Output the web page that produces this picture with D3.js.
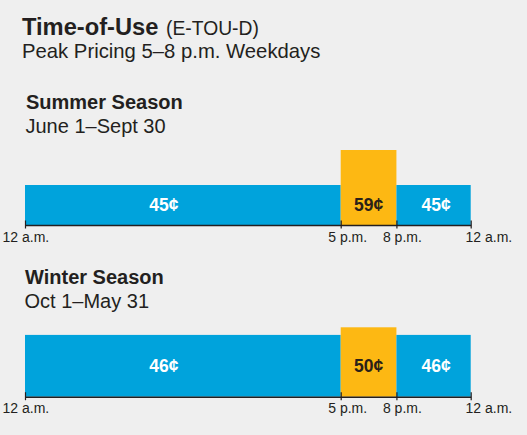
<!DOCTYPE html>
<html><head><meta charset="utf-8">
<script src="https://cdn.jsdelivr.net/npm/d3@7/dist/d3.min.js"></script>
<style>
html,body{margin:0;padding:0;background:#efefef;}
svg{display:block;font-family:"Liberation Sans",Arial,Helvetica,sans-serif;}
</style></head><body>
<script>
// ---- data ----
const seasons = ["Summer Season", "Winter Season"];
const seasonDates = ["June 1–Sept 30", "Oct 1–May 31"];
const segStart = [0, 17, 20];
const segEnd = [17, 20, 24];
const segType = ["off", "peak", "off"];
const summerCents = [45, 59, 45];
const winterCents = [46, 50, 46];
const tickHours = [0, 17, 20, 24];
const tickLabels = ["12 a.m.", "5 p.m.", "8 p.m.", "12 a.m."];
const titleMain = "Time-of-Use";
const titleCode = "(E-TOU-D)";
const subtitle = "Peak Pricing 5–8 p.m. Weekdays";

// ---- layout / style ----
const W = 527, H = 435;
const colors = {off: "#00a3dc", peak: "#fdb813"};
const labelColors = {off: "#ffffff", peak: "#2a2118"};
const textColor = "#231f20";
const labelDx = [-23, -13, -14, -5.7];
const panels = [
  {values: summerCents, titleX: 26, titleY: 109, dateY: 132.5, base: 225, top: 150, domainMin: 29, axisLabelY: 242},
  {values: winterCents, titleX: 25, titleY: 284, dateY: 307.5, base: 396.7, top: 327.3, domainMin: 13.5, axisLabelY: 413}
];

const svg = d3.select("body").append("svg").attr("width", W).attr("height", H);
svg.append("rect").attr("width", W).attr("height", H).attr("fill", "#efefef");

const title = svg.append("text").attr("x", 22).attr("y", 35).attr("fill", textColor);
title.append("tspan").attr("font-size", 23.7).attr("font-weight", "bold").text(titleMain);
title.append("tspan").attr("x", 166).attr("font-size", 19.3).text(titleCode);
svg.append("text").attr("x", 22).attr("y", 58).attr("font-size", 20.3).attr("fill", textColor).text(subtitle);

const x = d3.scaleLinear().domain([0, 24]).range([25, 470.7]);

panels.forEach((p, i) => {
  svg.append("text").attr("x", p.titleX).attr("y", p.titleY).attr("font-size", 20).attr("font-weight", "bold")
    .attr("fill", textColor).text(seasons[i]);
  svg.append("text").attr("x", p.titleX - 0.5).attr("y", p.dateY).attr("font-size", 20)
    .attr("fill", textColor).text(seasonDates[i]);

  const maxV = d3.max(p.values);
  const y = d3.scaleLinear().domain([p.domainMin, maxV]).range([p.base, p.top]);
  const segs = p.values.map((v, k) => ({v, s: segStart[k], e: segEnd[k], t: segType[k], k}));

  const g = svg.append("g");
  g.selectAll("rect").data(segs).join("rect")
    .attr("x", d => x(d.s)).attr("width", d => x(d.e) - x(d.s))
    .attr("y", d => y(d.v)).attr("height", d => p.base - y(d.v))
    .attr("fill", d => colors[d.t]);

  const midBlue = (p.base + y(p.values[0])) / 2;
  g.selectAll("text.val").data(segs).join("text").attr("class", "val")
    .attr("x", d => d.k === 0 ? x(d.s + (d.e - d.s) * 0.44) : (d.k === 2 ? x((d.s + d.e) / 2) + 2.5 : x((d.s + d.e) / 2)))
    .attr("y", midBlue + 6)
    .attr("text-anchor", "middle").attr("font-size", 17.5).attr("font-weight", "bold")
    .attr("fill", d => labelColors[d.t]).text(d => d.v + "¢");

  const axis = d3.axisBottom(x).tickValues(tickHours).tickSizeOuter(0).tickSizeInner(4)
    .tickFormat((d, k) => tickLabels[k]);
  const ag = svg.append("g").attr("transform", `translate(0,${p.base})`).call(axis);
  ag.select(".domain").attr("stroke", textColor).attr("stroke-width", 1.5);
  ag.selectAll(".tick line").attr("y1", -4.5).attr("y2", 3.5).attr("stroke", textColor).attr("stroke-width", 1.2);
  ag.selectAll(".tick text").attr("y", p.axisLabelY - p.base).attr("dy", 0)
    .attr("x", (d, k) => labelDx[k]).attr("text-anchor", "start")
    .attr("font-size", 14).attr("font-family", "Liberation Sans, Arial, sans-serif").attr("fill", textColor);
});
</script>
</body></html>
